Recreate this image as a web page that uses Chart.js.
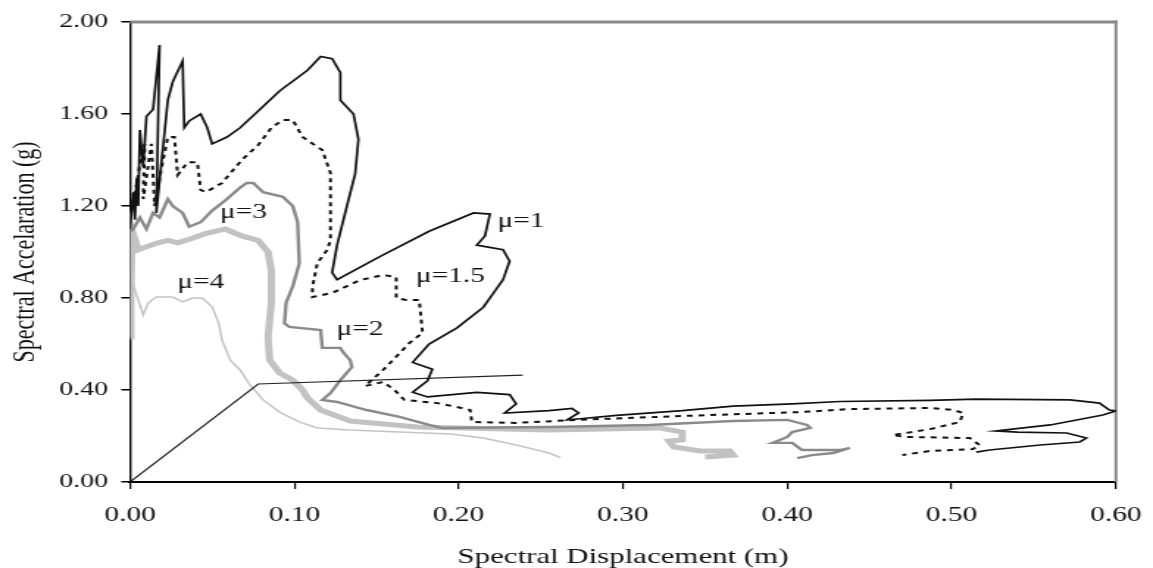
<!DOCTYPE html>
<html><head><meta charset="utf-8">
<script src="https://cdn.jsdelivr.net/npm/chart.js@4/dist/chart.umd.min.js"></script>
<style>html,body{margin:0;padding:0;background:#fff;overflow:hidden}
canvas{display:block}</style>
</head><body>
<canvas id="c" width="784" height="568" style="width:1153px;height:568px"></canvas>
<script>
// ---- data (Sd in m, Sa in g) ----
const xTicks = [0, 0.1, 0.2, 0.3, 0.4, 0.5, 0.6];
const yTicks = [0, 0.4, 0.8, 1.2, 1.6, 2.0];
const seriesNames = ['μ=1', 'μ=1.5', 'μ=2', 'μ=3', 'μ=4'];

const mu1 = [[0.000,1.10],[0.002,1.26],[0.003,1.14],[0.004,1.32],[0.005,1.20],[0.006,1.53],[0.008,1.37],[0.010,1.59],[0.014,1.62],[0.018,1.90],[0.016,1.17],[0.023,1.66],[0.026,1.74],[0.032,1.83],[0.033,1.54],[0.036,1.57],[0.043,1.60],[0.047,1.54],[0.050,1.47],[0.059,1.50],[0.067,1.54],[0.079,1.62],[0.091,1.70],[0.108,1.79],[0.116,1.85],[0.123,1.84],[0.128,1.78],[0.128,1.66],[0.136,1.60],[0.139,1.49],[0.137,1.34],[0.132,1.20],[0.126,1.03],[0.123,0.91],[0.126,0.88],[0.152,0.98],[0.182,1.09],[0.209,1.17],[0.219,1.165],[0.216,1.07],[0.211,1.03],[0.227,1.01],[0.231,0.96],[0.227,0.88],[0.222,0.83],[0.215,0.76],[0.199,0.67],[0.182,0.60],[0.172,0.52],[0.184,0.49],[0.181,0.44],[0.172,0.39],[0.181,0.37],[0.211,0.39],[0.231,0.38],[0.235,0.34],[0.228,0.30],[0.255,0.31],[0.269,0.32],[0.273,0.30],[0.266,0.27],[0.274,0.275],[0.296,0.29],[0.336,0.31],[0.367,0.33],[0.403,0.34],[0.432,0.35],[0.487,0.355],[0.515,0.36],[0.572,0.357],[0.590,0.343],[0.596,0.313],[0.600,0.309],[0.592,0.291],[0.560,0.248],[0.527,0.222],[0.540,0.217],[0.570,0.213],[0.582,0.191],[0.578,0.174],[0.554,0.161],[0.523,0.139],[0.515,0.130]];

const mu15 = [[0.000,1.18],[0.003,1.25],[0.006,1.38],[0.009,1.47],[0.008,1.23],[0.013,1.47],[0.015,1.20],[0.019,1.36],[0.023,1.50],[0.027,1.50],[0.029,1.335],[0.035,1.39],[0.041,1.39],[0.043,1.27],[0.046,1.26],[0.056,1.30],[0.068,1.40],[0.078,1.465],[0.086,1.54],[0.093,1.574],[0.099,1.574],[0.105,1.50],[0.117,1.443],[0.122,1.343],[0.122,1.052],[0.120,1.009],[0.114,0.952],[0.111,0.848],[0.111,0.804],[0.123,0.822],[0.140,0.878],[0.154,0.900],[0.162,0.891],[0.162,0.800],[0.168,0.791],[0.176,0.791],[0.178,0.648],[0.170,0.604],[0.160,0.530],[0.154,0.487],[0.143,0.417],[0.154,0.435],[0.161,0.400],[0.167,0.357],[0.187,0.343],[0.199,0.326],[0.207,0.313],[0.208,0.261],[0.235,0.257],[0.272,0.270],[0.336,0.287],[0.408,0.304],[0.438,0.317],[0.487,0.322],[0.501,0.313],[0.507,0.300],[0.505,0.261],[0.487,0.230],[0.464,0.204],[0.473,0.196],[0.511,0.191],[0.517,0.161],[0.513,0.143],[0.487,0.135],[0.470,0.117]];

const mu2 = [[0.000,1.09],[0.002,1.10],[0.006,1.15],[0.010,1.10],[0.014,1.17],[0.018,1.15],[0.023,1.23],[0.026,1.20],[0.032,1.17],[0.036,1.11],[0.043,1.13],[0.050,1.18],[0.059,1.23],[0.067,1.28],[0.071,1.30],[0.075,1.30],[0.081,1.26],[0.093,1.24],[0.099,1.20],[0.102,1.13],[0.103,0.95],[0.099,0.85],[0.095,0.78],[0.094,0.69],[0.097,0.674],[0.116,0.661],[0.117,0.583],[0.128,0.583],[0.130,0.561],[0.134,0.530],[0.135,0.500],[0.128,0.443],[0.122,0.387],[0.117,0.357],[0.126,0.348],[0.144,0.313],[0.164,0.283],[0.182,0.248],[0.190,0.235],[0.255,0.239],[0.316,0.248],[0.367,0.265],[0.400,0.270],[0.412,0.248],[0.414,0.235],[0.403,0.217],[0.400,0.196],[0.391,0.170],[0.403,0.170],[0.409,0.139],[0.432,0.139],[0.438,0.148],[0.428,0.126],[0.415,0.117],[0.406,0.104]];

const mu3 = [[0.000,0.63],[0.0005,0.84],[0.001,1.01],[0.001,1.10],[0.005,1.01],[0.009,1.02],[0.017,1.04],[0.023,1.05],[0.029,1.04],[0.038,1.06],[0.046,1.08],[0.058,1.10],[0.068,1.07],[0.078,1.05],[0.084,1.00],[0.086,0.92],[0.086,0.78],[0.084,0.63],[0.085,0.53],[0.091,0.474],[0.099,0.443],[0.105,0.400],[0.108,0.365],[0.116,0.313],[0.134,0.265],[0.175,0.239],[0.255,0.226],[0.322,0.235],[0.336,0.217],[0.336,0.183],[0.328,0.178],[0.331,0.152],[0.347,0.135],[0.365,0.135],[0.367,0.117],[0.350,0.109]];

const mu4 = [[0.001,0.88],[0.003,0.835],[0.008,0.726],[0.011,0.778],[0.016,0.804],[0.026,0.804],[0.032,0.783],[0.038,0.800],[0.044,0.800],[0.050,0.761],[0.054,0.691],[0.056,0.617],[0.061,0.530],[0.067,0.487],[0.073,0.422],[0.081,0.357],[0.091,0.304],[0.103,0.261],[0.114,0.235],[0.134,0.226],[0.164,0.217],[0.195,0.209],[0.215,0.191],[0.235,0.161],[0.255,0.126],[0.262,0.106]];

const capacity = [[0,0],[0.078,0.426],[0.239,0.465]];

// label anchors (data units) for the curve annotations
const labelSd = [0.238, 0.195, 0.140, 0.069, 0.043];
const labelSa = [1.13, 0.891, 0.661, 1.17, 0.865];

// ---- chart ----
const SERIF = '"Liberation Serif", "Times New Roman", serif';
const toPts = arr => arr.map(p => ({x: p[0], y: p[1]}));
const line = (label, data, color, width, dash) => ({
  label, data: toPts(data), showLine: true, borderColor: color, backgroundColor: color,
  borderWidth: width, borderDash: dash || [], pointRadius: 0, tension: 0, fill: false
});

const framePlugin = {
  id: 'frame',
  beforeDatasetsDraw(chart) {
    const {ctx, chartArea: a} = chart;
    ctx.save();
    ctx.strokeStyle = '#8a8a8a';
    ctx.lineWidth = 3;
    ctx.beginPath(); ctx.moveTo(a.left, a.top); ctx.lineTo(a.right + 1, a.top); ctx.stroke();
    ctx.lineWidth = 2;
    ctx.beginPath(); ctx.moveTo(a.right, a.top - 1.5); ctx.lineTo(a.right, a.bottom); ctx.stroke();
    ctx.restore();
  }
};
const labelPlugin = {
  id: 'curveLabels',
  afterDatasetsDraw(chart) {
    const {ctx, scales: {x, y}} = chart;
    ctx.save();
    ctx.font = '20px ' + SERIF;
    ctx.fillStyle = '#111';
    ctx.textAlign = 'center';
    ctx.textBaseline = 'middle';
    seriesNames.forEach((t, i) => ctx.fillText(t, x.getPixelForValue(labelSd[i]), y.getPixelForValue(labelSa[i])));
    ctx.restore();
  }
};

new Chart(document.getElementById('c'), {
  type: 'scatter',
  data: {
    datasets: [
      line(seriesNames[0], mu1, '#111', 1.7),
      line(seriesNames[1], mu15, '#111', 2, [4, 4]),
      line('Capacity', capacity, '#222', 1.2),
      line(seriesNames[2], mu2, '#8a8a8a', 2.4),
      line(seriesNames[4], mu4, '#c4c4c4', 1.5),
      line(seriesNames[3], mu3, '#c2c2c2', 5)
    ]
  },
  options: {
    responsive: false, animation: false, devicePixelRatio: 1, events: [],
    layout: {padding: {left: 0, right: 25.2, top: 22, bottom: 0}},
    plugins: {legend: {display: false}, tooltip: {enabled: false}},
    scales: {
      x: {
        type: 'linear', min: 0, max: 0.6,
        afterBuildTicks: s => { s.ticks = xTicks.map(v => ({value: v})); },
        afterFit: s => { s.height = 86; s.paddingLeft = 0; s.paddingRight = 0; },
        ticks: {callback: v => Number(v).toFixed(2), font: {family: SERIF, size: 20}, color: '#111',
                padding: 14.5, maxRotation: 0, autoSkip: false},
        grid: {drawOnChartArea: false, drawTicks: true, tickLength: 7, color: '#000', lineWidth: 1.2},
        border: {display: true, color: '#000', width: 2},
        title: {display: true, text: 'Spectral Displacement (m)', font: {family: SERIF, size: 21},
                color: '#111', padding: {top: 0, bottom: -2}}
      },
      y: {
        type: 'linear', min: 0, max: 2,
        afterBuildTicks: s => { s.ticks = yTicks.map(v => ({value: v})); },
        afterFit: s => { s.width = 88.4; s.paddingTop = 0; s.paddingBottom = 0; },
        ticks: {callback: v => Number(v).toFixed(2), font: {family: SERIF, size: 19}, color: '#111',
                padding: 9, autoSkip: false},
        grid: {drawOnChartArea: false, drawTicks: true, tickLength: 6, color: '#000', lineWidth: 1.5},
        border: {display: true, color: '#000', width: 1.4},
        title: {display: true, text: 'Spectral Accelaration (g)', font: {family: SERIF, size: 22},
                color: '#111', padding: {top: 4.5, bottom: 0}}
      }
    }
  },
  plugins: [framePlugin, labelPlugin]
});
</script>
</body></html>
